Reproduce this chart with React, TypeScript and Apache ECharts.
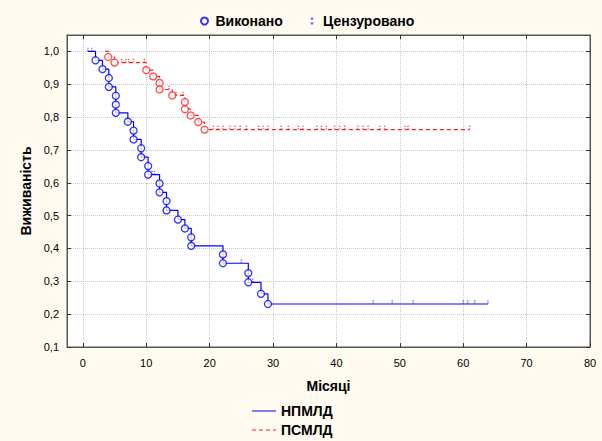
import React, { useEffect, useRef } from "react";
import * as echarts from "echarts";

// НПМЛД (blue) – event times and survival after each event
const blueStart = 0.8;
const blueEnd = 63.9;
const blueEventT = [2.0, 3.1, 4.1, 4.1, 5.2, 5.2, 5.2, 7.1, 8.0, 8.0, 9.2, 9.2, 10.3, 10.3, 12.1, 12.1, 13.2, 13.2, 15.0, 16.1, 17.1, 17.1, 22.1, 22.1, 26.1, 26.1, 28.1, 29.2];
const blueEventS = [0.973, 0.946, 0.919, 0.892, 0.865, 0.838, 0.813, 0.786, 0.759, 0.732, 0.705, 0.678, 0.651, 0.625, 0.598, 0.571, 0.544, 0.516, 0.488, 0.461, 0.434, 0.408, 0.382, 0.355, 0.325, 0.297, 0.262, 0.231];
const blueCensT = [0.8, 1.4, 10.9, 11.3, 25.0, 26.8, 45.8, 48.8, 52.1, 60.0, 60.7, 61.8, 63.9];
const blueCensS = [1.0, 1.0, 0.625, 0.625, 0.355, 0.297, 0.231, 0.231, 0.231, 0.231, 0.231, 0.231, 0.231];

// ПСМЛД (red)
const redStart = 3.5;
const redEnd = 61.0;
const redEventT = [4.0, 5.0, 10.0, 11.1, 12.1, 12.1, 14.1, 16.1, 16.1, 17.0, 18.2, 19.2];
const redEventS = [0.983, 0.966, 0.943, 0.924, 0.904, 0.884, 0.866, 0.846, 0.824, 0.805, 0.785, 0.762];
const redCensT = [6.1, 6.8, 7.2, 8.0, 9.7, 13.6, 14.7, 15.8, 20.6, 21.3, 22.1, 23.2, 24.0, 24.8, 25.8, 27.7, 28.4, 29.2, 31.3, 32.4, 34.0, 34.7, 36.9, 37.6, 38.4, 39.7, 40.5, 41.3, 43.4, 44.2, 45.0, 46.8, 47.6, 50.8, 51.3, 61.0];
const redCensS = [0.966, 0.966, 0.966, 0.966, 0.966, 0.884, 0.866, 0.866, 0.762, 0.762, 0.762, 0.762, 0.762, 0.762, 0.762, 0.762, 0.762, 0.762, 0.762, 0.762, 0.762, 0.762, 0.762, 0.762, 0.762, 0.762, 0.762, 0.762, 0.762, 0.762, 0.762, 0.762, 0.762, 0.762, 0.762, 0.762];

const xTicks = [0, 10, 20, 30, 40, 50, 60, 70, 80];
const yTicks = [0.1, 0.2, 0.3, 0.4, 0.5, 0.6, 0.7, 0.8, 0.9, 1.0];

const BLUE = "#0000ff";
const RED = "#ff2020";
const FONT = "Liberation Sans, Arial, sans-serif";
const CENS = "path://M0,0h1v1h-1z M0,2h1v1h-1z";
const SOLID_ICON = "path://M0,0h24v1h-24z";
const DASH_ICON = "path://M0,0h4v1h-4z M7,0h4v1h-4z M14,0h4v1h-4z M21,0h3v1h-3z";

function stepPoints(start: number, end: number, ts: number[], ss: number[]) {
  const pts: number[][] = [[start, 1.0]];
  let prev = 1.0;
  for (let i = 0; i < ts.length; i++) {
    pts.push([ts[i], prev]);
    pts.push([ts[i], ss[i]]);
    prev = ss[i];
  }
  pts.push([end, prev]);
  return pts;
}

const zip = (a: number[], b: number[]) => a.map((v, i) => [v, b[i]]);

export default function App() {
  const ref = useRef<HTMLDivElement>(null);
  useEffect(() => {
    if (!ref.current) return;
    const chart = echarts.init(ref.current, null, { renderer: "svg" });
    const axisCommon = {
      type: "value" as const,
      axisLine: { show: true, onZero: false, lineStyle: { color: "#555", width: 1 } },
      axisTick: { show: true, inside: true, length: 4, lineStyle: { color: "#333" } },
    };
    const boldText = { fontFamily: FONT, fontSize: 14, fontWeight: "bold", color: "#000" };
    chart.setOption({
      animation: false,
      backgroundColor: "#fffbf0",
      textStyle: { fontFamily: FONT },
      grid: {
        left: 67,
        right: 12,
        top: 35,
        bottom: 94,
        show: true,
        backgroundColor: "#ffffff",
        borderColor: "#555",
        borderWidth: 1,
      },
      legend: [
        {
          data: ["Виконано", "Цензуровано"],
          top: 9,
          left: 195,
          itemGap: 28,
          itemWidth: 12,
          itemHeight: 7,
          textStyle: boldText,
        },
        {
          data: [{ name: "НПМЛД", icon: SOLID_ICON }],
          left: 247,
          top: 399,
          itemWidth: 24,
          itemHeight: 1.2,
          textStyle: boldText,
        },
        {
          data: [{ name: "ПСМЛД", icon: DASH_ICON }],
          left: 247,
          top: 418,
          itemWidth: 24,
          itemHeight: 1.2,
          textStyle: boldText,
        },
      ],
      xAxis: [
        {
          ...axisCommon,
          min: -2.5,
          max: 80,
          position: "bottom",
          name: "Місяці",
          nameLocation: "middle",
          nameGap: 32,
          nameTextStyle: boldText,
          axisTick: { ...axisCommon.axisTick, customValues: xTicks },
          axisLabel: { customValues: xTicks, color: "#000", fontSize: 11, fontFamily: FONT, margin: 10 },
          splitLine: { show: true, lineStyle: { color: "#c8c8c8", type: "dotted" } },
        },
        {
          ...axisCommon,
          min: -2.5,
          max: 80,
          position: "top",
          axisTick: { ...axisCommon.axisTick, customValues: xTicks.slice(0, 8) },
          axisLabel: { show: false },
          splitLine: { show: false },
        },
      ],
      yAxis: [
        {
          ...axisCommon,
          min: 0.1,
          max: 1.05,
          position: "left",
          name: "Виживаність",
          nameLocation: "middle",
          nameRotate: 90,
          nameGap: 29,
          nameTextStyle: boldText,
          axisTick: { ...axisCommon.axisTick, customValues: yTicks },
          axisLabel: {
            customValues: yTicks,
            color: "#000",
            fontSize: 11,
            fontFamily: FONT,
            margin: 8,
            formatter: (v: number) => v.toFixed(1).replace(".", ","),
          },
          splitLine: { show: true, lineStyle: { color: "#c8c8c8", type: "dotted" } },
        },
        {
          ...axisCommon,
          min: 0.1,
          max: 1.05,
          position: "right",
          axisTick: { ...axisCommon.axisTick, customValues: yTicks },
          axisLabel: { show: false },
          splitLine: { show: false },
        },
      ],
      series: [
        {
          name: "НПМЛД",
          type: "line",
          data: stepPoints(blueStart, blueEnd, blueEventT, blueEventS),
          symbol: "none",
          lineStyle: { color: BLUE, width: 1.2 },
          itemStyle: { color: BLUE },
          z: 3,
        },
        {
          name: "ПСМЛД",
          type: "line",
          data: stepPoints(redStart, redEnd, redEventT, redEventS),
          symbol: "none",
          lineStyle: { color: RED, width: 1.2, type: [4, 3] },
          itemStyle: { color: RED },
          z: 3,
        },
        {
          name: "Виконано",
          type: "scatter",
          data: zip(blueEventT, blueEventS),
          symbol: "circle",
          symbolSize: 7,
          itemStyle: { color: "#ffffff", borderColor: BLUE, borderWidth: 1.3 },
          z: 4,
        },
        {
          name: "Виконано",
          type: "scatter",
          data: zip(redEventT, redEventS),
          symbol: "circle",
          symbolSize: 7,
          itemStyle: { color: "#ffffff", borderColor: RED, borderWidth: 1.3 },
          z: 4,
        },
        {
          name: "Цензуровано",
          type: "scatter",
          data: zip(blueCensT, blueCensS),
          symbol: CENS,
          symbolSize: [1.4, 3.5],
          symbolOffset: [0, -2],
          itemStyle: { color: "#4040ff" },
          z: 5,
        },
        {
          name: "Цензуровано",
          type: "scatter",
          data: zip(redCensT, redCensS),
          symbol: CENS,
          symbolSize: [1.4, 3.5],
          symbolOffset: [0, -2],
          itemStyle: { color: RED },
          z: 5,
        },
      ],
    });
    return () => chart.dispose();
  }, []);
  return (
    <div
      ref={ref}
      style={{ position: "fixed", left: 0, top: 0, width: 602, height: 441 }}
    />
  );
}
